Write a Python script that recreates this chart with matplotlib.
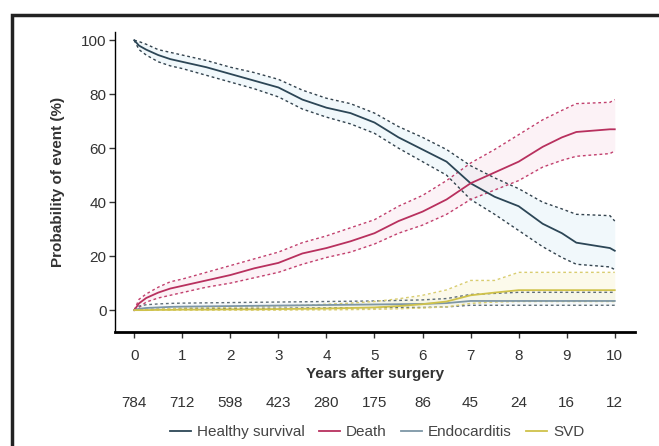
import numpy as np
import matplotlib
matplotlib.use("Agg")
import matplotlib.pyplot as plt
from matplotlib.patches import Rectangle

plt.rcParams['font.family'] = ['Liberation Sans', 'DejaVu Sans']

# years after surgery
years = [0, 0.1, 0.25, 0.5, 0.75, 1, 1.5, 2, 2.5, 3, 3.5, 4, 4.5, 5, 5.5,
         6, 6.5, 7, 7.5, 8, 8.5, 8.9, 9.2, 9.9, 10]

healthy = [100, 98, 96.5, 94.5, 93, 92, 90, 87.5, 85, 82.5, 78, 75, 73, 69.5, 64,
           59.5, 55, 47, 42, 38.5, 32, 28.5, 25, 23, 22]
healthy_hi = [100, 99.5, 98.5, 96.5, 95.5, 94.5, 92.5, 90, 88, 85.5, 81.5, 78.5, 76.5, 73, 68,
              64, 59.5, 53.5, 49, 45, 40, 37.5, 35.5, 35, 33]
healthy_lo = [100, 96.5, 94.5, 92, 90.5, 89.5, 87, 84.5, 82, 79, 74.5, 71.5, 69, 65.5, 60,
              55, 50, 41, 35.5, 29.5, 23.5, 19.5, 17, 16, 15]

death = [0, 2.5, 4.5, 6.5, 8, 9, 11, 13, 15.5, 17.5, 21, 23, 25.5, 28.5, 33,
         36.5, 41, 47, 51, 55, 60.5, 64, 66, 67, 67]
death_hi = [0, 4, 6, 8.5, 10.5, 11.5, 14, 16.5, 19, 21.5, 25, 27.5, 30.5, 33.5, 38.5,
            42.5, 48, 54.5, 59.5, 65, 70.5, 74, 76.5, 77, 78]
death_lo = [0, 1, 3, 4.5, 5.5, 6.5, 8.5, 10, 12, 14, 17, 19.5, 21.5, 24.5, 28.5,
            31.5, 35.5, 41, 44.5, 48, 53, 55.5, 57, 58, 59]

endo = [0, 0.5, 0.8, 1.0, 1.2, 1.3, 1.4, 1.5, 1.6, 1.7, 1.8, 1.9, 2.0, 2.1, 2.2,
        2.3, 2.6, 3.4, 3.4, 3.4, 3.4, 3.4, 3.4, 3.4, 3.4]
endo_hi = [0, 1.5, 2.0, 2.3, 2.5, 2.6, 2.7, 2.8, 2.9, 3.0, 3.1, 3.2, 3.3, 3.4, 3.6,
           3.8, 4.3, 5.8, 6.2, 6.6, 6.6, 6.6, 6.6, 6.6, 6.6]
endo_lo = [0, 0.1, 0.2, 0.3, 0.4, 0.5, 0.6, 0.6, 0.7, 0.7, 0.8, 0.8, 0.9, 0.9, 1.0,
           1.0, 1.2, 1.8, 1.8, 1.8, 1.8, 1.8, 1.8, 1.8, 1.8]

svd = [0, 0, 0, 0.1, 0.1, 0.2, 0.2, 0.3, 0.3, 0.4, 0.5, 0.6, 0.8, 1.0, 1.5,
       2.2, 3.2, 5.5, 6.5, 7.4, 7.4, 7.4, 7.4, 7.4, 7.4]
svd_hi = [0, 0, 0.3, 0.5, 0.6, 0.8, 0.9, 1.1, 1.3, 1.5, 1.8, 2.2, 2.6, 3.2, 4.2,
          5.5, 7.5, 11, 11, 14, 14, 14, 14, 14, 14]
svd_lo = [0, 0, 0, 0, 0, 0, 0, 0, 0, 0, 0.1, 0.1, 0.2, 0.3, 0.5,
          0.8, 1.2, 2.5, 3.0, 3.2, 3.2, 3.2, 3.2, 3.2, 3.2]

# numbers at risk
risk_years = [0, 1, 2, 3, 4, 5, 6, 7, 8, 9, 10]
at_risk = [784, 712, 598, 423, 280, 175, 86, 45, 24, 16, 12]

series = [
    ("Healthy survival", healthy, healthy_lo, healthy_hi, "#2c4656", "#33434e", "#d7ebf5"),
    ("Death", death, death_lo, death_hi, "#b8305e", "#c2406e", "#f8dce6"),
    ("Endocarditis", endo, endo_lo, endo_hi, "#7d96a6", "#5f6e78", "#e6eef3"),
    ("SVD", svd, svd_lo, svd_hi, "#cfc24a", "#d9cd70", "#f7f1c8"),
]

fig = plt.figure(figsize=(6.59, 4.46), dpi=100)
ax = fig.add_axes([0.1745, 0.2556, 0.789, 0.6724])

for name, est, lo, hi, col, cicol, fillcol in series:
    ax.fill_between(years, lo, hi, color=fillcol, alpha=0.35, lw=0)
    ax.plot(years, hi, color=cicol, lw=1.0, ls=(0, (2, 2)))
    ax.plot(years, lo, color=cicol, lw=1.0, ls=(0, (2, 2)))
for name, est, lo, hi, col, cicol, fillcol in series:
    ax.plot(years, est, color=col, lw=1.3, label=name)

ax.set_xlim(-0.4, 10.42)
ax.set_ylim(-8.1, 103)
ax.set_xticks(risk_years)
ax.set_yticks([0, 20, 40, 60, 80, 100])
for s in ['top', 'right']:
    ax.spines[s].set_visible(False)
ax.spines['left'].set_linewidth(1.0)
ax.spines['bottom'].set_linewidth(2.0)
ax.tick_params(axis='x', length=4, width=1, pad=8, labelsize=11, colors='#333333')
ax.tick_params(axis='y', length=4, width=1, pad=2, labelsize=11, colors='#333333')

ax.set_ylabel("Probability of event (%)", fontsize=11, fontweight='bold', color='#333333')
ax.yaxis.set_label_coords(-0.097, 0.5)
ax.text(0.5, -0.14, "Years after surgery", transform=ax.transAxes, ha='center', va='center',
        fontsize=11, fontweight='bold', color='#333333')

trans = ax.get_xaxis_transform()
for x, n in zip(risk_years, at_risk):
    ax.text(x, -0.237, str(n), transform=trans, ha='center', va='center',
            fontsize=11, color='#333333')

fig.legend(loc='center', bbox_to_anchor=(0.572, 0.031), ncol=4, frameon=False,
           fontsize=11, handlelength=1.4, handletextpad=0.4, columnspacing=0.9,
           labelcolor='#444444')

# outer frame of the panel
fig.patches.append(Rectangle((0.018, -0.2), 1.2, 1.166, transform=fig.transFigure,
                             fill=False, lw=2.5, ec='#222222', clip_on=False))

fig.savefig("out.png", dpi=100)
